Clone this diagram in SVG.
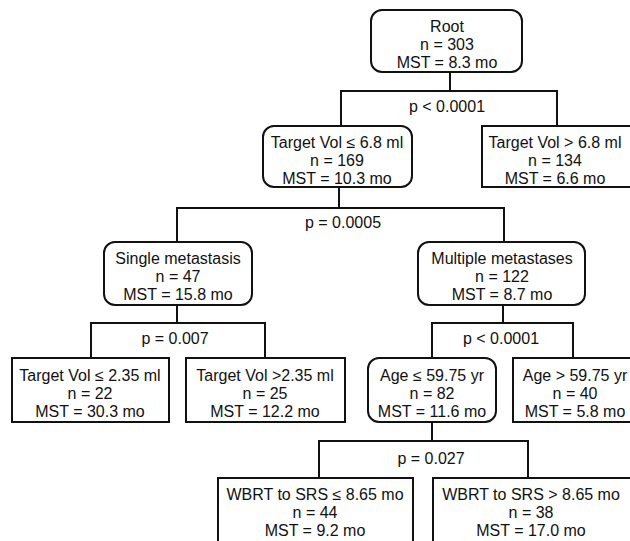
<svg xmlns="http://www.w3.org/2000/svg" width="630" height="541" viewBox="0 0 630 541">
<style>
.b{fill:#fff;stroke:#111;stroke-width:2}
.t{font-family:"Liberation Sans",Arial,sans-serif;font-size:16px;fill:#111;text-anchor:middle}
.c{fill:none;stroke:#111;stroke-width:2}
</style>
<rect width="630" height="541" fill="#fff"/>
<g id="connectors">
<path class="c" d="M450,72V91M341,126V91H557V126"/>
<path class="c" d="M339,187V208M177,242V208H504V242"/>
<path class="c" d="M177,305V323M91,358V323H265V358"/>
<path class="c" d="M503,305V323M432,358V323H573V358"/>
<path class="c" d="M432,422V441M319,478V441H528V478"/>
</g>
<g id="labels">
<text class="t" x="447" y="112">p &lt; 0.0001</text>
<text class="t" x="343" y="228">p = 0.0005</text>
<text class="t" x="175" y="344">p = 0.007</text>
<text class="t" x="501" y="344">p &lt; 0.0001</text>
<text class="t" x="431" y="464">p = 0.027</text>
</g>
<g id="root">
<rect class="b" x="371" y="10" width="151" height="62" rx="11"/>
<text class="t" x="447" y="32">Root</text>
<text class="t" x="447" y="50">n = 303</text>
<text class="t" x="447" y="68">MST = 8.3 mo</text>
</g>
<g id="vol-le-6.8">
<rect class="b" x="263" y="126" width="149" height="61" rx="11"/>
<text class="t" x="337" y="148">Target Vol ≤ 6.8 ml</text>
<text class="t" x="337" y="166">n = 169</text>
<text class="t" x="337" y="184">MST = 10.3 mo</text>
</g>
<g id="vol-gt-6.8">
<rect class="b" x="482" y="126" width="150" height="61"/>
<text class="t" x="555" y="148">Target Vol &gt; 6.8 ml</text>
<text class="t" x="555" y="166">n = 134</text>
<text class="t" x="555" y="184">MST = 6.6 mo</text>
</g>
<g id="single">
<rect class="b" x="104" y="242" width="148" height="63" rx="11"/>
<text class="t" x="178" y="264">Single metastasis</text>
<text class="t" x="178" y="282">n = 47</text>
<text class="t" x="178" y="300">MST = 15.8 mo</text>
</g>
<g id="multiple">
<rect class="b" x="418" y="242" width="167" height="63" rx="11"/>
<text class="t" x="502" y="264">Multiple metastases</text>
<text class="t" x="502" y="282">n = 122</text>
<text class="t" x="502" y="300">MST = 8.7 mo</text>
</g>
<g id="vol-le-2.35">
<rect class="b" x="12" y="358" width="157" height="64"/>
<text class="t" x="90" y="381">Target Vol ≤ 2.35 ml</text>
<text class="t" x="90" y="399">n = 22</text>
<text class="t" x="90" y="417">MST = 30.3 mo</text>
</g>
<g id="vol-gt-2.35">
<rect class="b" x="186" y="358" width="159" height="64"/>
<text class="t" x="265" y="381">Target Vol &gt;2.35 ml</text>
<text class="t" x="265" y="399">n = 25</text>
<text class="t" x="265" y="417">MST = 12.2 mo</text>
</g>
<g id="age-le">
<rect class="b" x="368" y="358" width="128" height="64" rx="11"/>
<text class="t" x="432" y="381">Age ≤ 59.75 yr</text>
<text class="t" x="432" y="399">n = 82</text>
<text class="t" x="432" y="417">MST = 11.6 mo</text>
</g>
<g id="age-gt">
<rect class="b" x="513" y="358" width="127" height="64"/>
<text class="t" x="575" y="381">Age &gt; 59.75 yr</text>
<text class="t" x="575" y="399">n = 40</text>
<text class="t" x="575" y="417">MST = 5.8 mo</text>
</g>
<g id="wbrt-le">
<rect class="b" x="218" y="478" width="195" height="70"/>
<text class="t" x="315" y="500">WBRT to SRS ≤ 8.65 mo</text>
<text class="t" x="315" y="518">n = 44</text>
<text class="t" x="315" y="536">MST = 9.2 mo</text>
</g>
<g id="wbrt-gt">
<rect class="b" x="433" y="478" width="202" height="70"/>
<text class="t" x="531" y="500">WBRT to SRS &gt; 8.65 mo</text>
<text class="t" x="531" y="518">n = 38</text>
<text class="t" x="531" y="536">MST = 17.0 mo</text>
</g>
</svg>
